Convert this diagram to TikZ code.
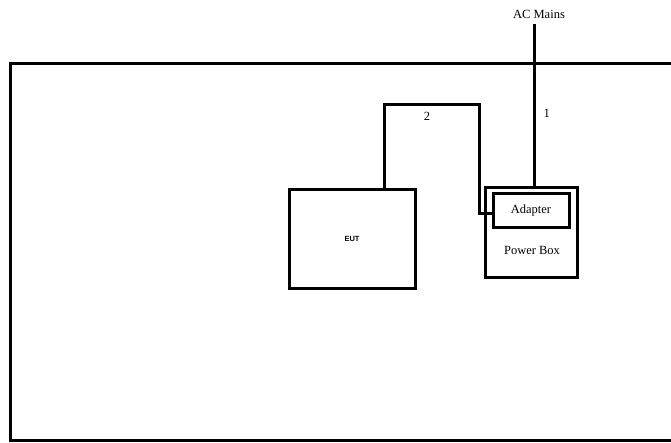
\documentclass[tikz,border=0pt]{standalone}
\usepackage{fontspec}
\setmainfont{Liberation Serif}
\newfontfamily\eutfont{Liberation Sans}
\usetikzlibrary{positioning}

\begin{document}
\begin{tikzpicture}[
    x=1pt, y=-1pt,
    wire/.style={line width=3pt, line join=miter},
    unit/.style={rectangle, draw, line width=3pt, inner sep=0pt},
    txt/.style={font=\fontsize{12.5}{14}\selectfont, inner sep=1pt}
]
\useasboundingbox (0,0) rectangle (671,442);

% Enclosure (open to the right)
\draw[wire] (675,63) -- (10,63) -- (10,440) -- (675,440);

% Nodes
\node[unit, minimum width=126pt, minimum height=99pt] (eut) at (352,238.5) {\eutfont\bfseries\fontsize{7.5}{9}\selectfont EUT};
\node[unit, minimum width=92pt, minimum height=90pt] (pbox) at (531,232) {};
\node[unit, minimum width=76pt, minimum height=34pt] (adapter) at (531,210) {};
\node[txt] (adaptertxt) at (adapter) {Adapter};
\node[txt] (pboxtxt) at (532,250) {Power Box};
\node[txt] (mains) at (539,14) {AC Mains};
\coordinate (bend) at (479,104);

% Cables
\draw[wire] ([xshift=-5pt,yshift=-5pt]mains.south) -- ([xshift=-5pt]mains.south |- pbox.north)
    node[txt, pos=0.55, right=7pt] (one) {1};
\draw[wire] ([xshift=32pt]eut.north) |- (bend) |- ([yshift=-3pt]adapter.west);
\node[txt] (two) at (427,116) {2};

\end{tikzpicture}
\end{document}
